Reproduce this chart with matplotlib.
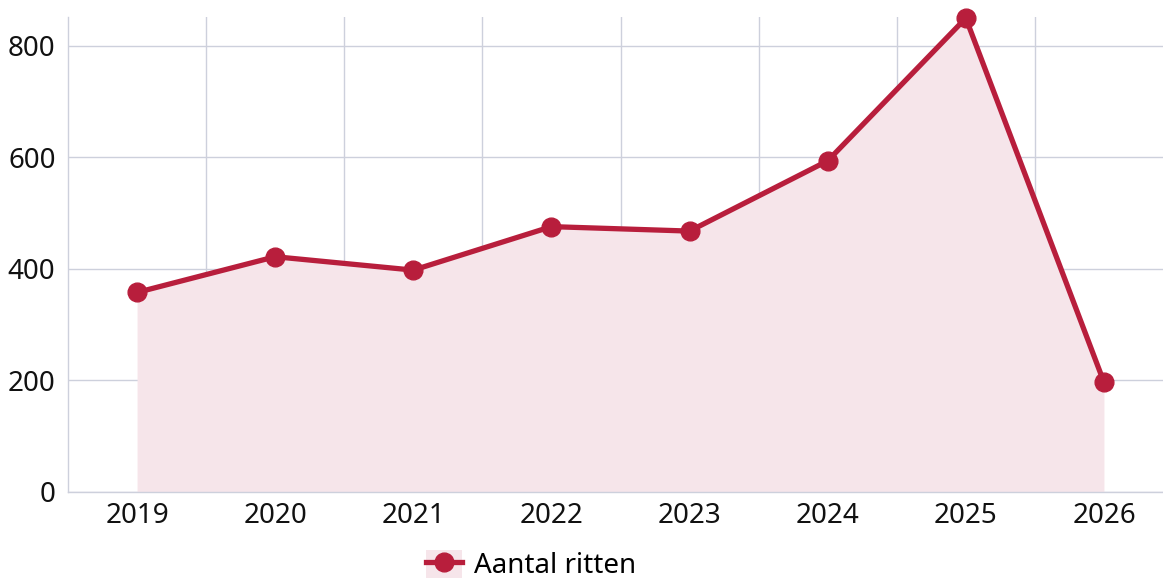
import matplotlib
matplotlib.use("Agg")
import matplotlib.pyplot as plt
from matplotlib.patches import Patch
from matplotlib.lines import Line2D
from matplotlib.legend_handler import HandlerTuple
import numpy as np

years = ["2019", "2020", "2021", "2022", "2023", "2024", "2025", "2026"]
rides = [358, 422, 398, 476, 468, 594, 850, 197]
series_name = "Aantal ritten"
yticks = [0, 200, 400, 600, 800]

LINE = "#B81E3C"
FILL = "#F6E5EA"
GRID = "#CDD0DC"

plt.rcParams['font.family'] = ['Noto Sans', 'DejaVu Sans']

W, H = 1163, 581
fig = plt.figure(figsize=(W / 100, H / 100), dpi=100)
left, right, top, bottom = 68, 1173, 17, 492
ax = fig.add_axes([left / W, 1 - bottom / H, (right - left) / W, (bottom - top) / H])

x = np.arange(len(years))
ax.fill_between(x, rides, 0, color=FILL, linewidth=0, zorder=1)
ax.plot(x, rides, color=LINE, linewidth=3.8, marker="o", markersize=13.5,
        clip_on=False, zorder=3)

ax.set_xlim(-0.5, len(years) - 0.5)
ax.set_ylim(0, 852)
ax.set_yticks(yticks)
ax.set_xticks(x)
ax.set_xticklabels(years)
ax.set_xticks(np.arange(0.5, len(years) - 1, 1.0), minor=True)

ax.grid(axis="y", which="major", color=GRID, linewidth=1.0, zorder=0)
ax.grid(axis="x", which="minor", color=GRID, linewidth=1.0, zorder=0)
ax.set_axisbelow(True)

for s in ["top", "right"]:
    ax.spines[s].set_visible(False)
for s in ["left", "bottom"]:
    ax.spines[s].set_color(GRID)
    ax.spines[s].set_linewidth(1.0)

ax.tick_params(axis="both", which="both", length=0, labelsize=20, colors="#111111")
ax.tick_params(axis="y", pad=9)
ax.tick_params(axis="x", pad=7)

handle = (Patch(facecolor=FILL, edgecolor="none"),
          Line2D([], [], color=LINE, linewidth=3.8, marker="o", markersize=13.5))
fig.legend([handle], [series_name], handler_map={tuple: HandlerTuple(ndivide=1)},
           loc="center", bbox_to_anchor=(531 / W, 1 - 565 / H),
           frameon=False, fontsize=20, handlelength=1.3, handleheight=1.2,
           handletextpad=0.4)

fig.savefig("out.png", dpi=100)
